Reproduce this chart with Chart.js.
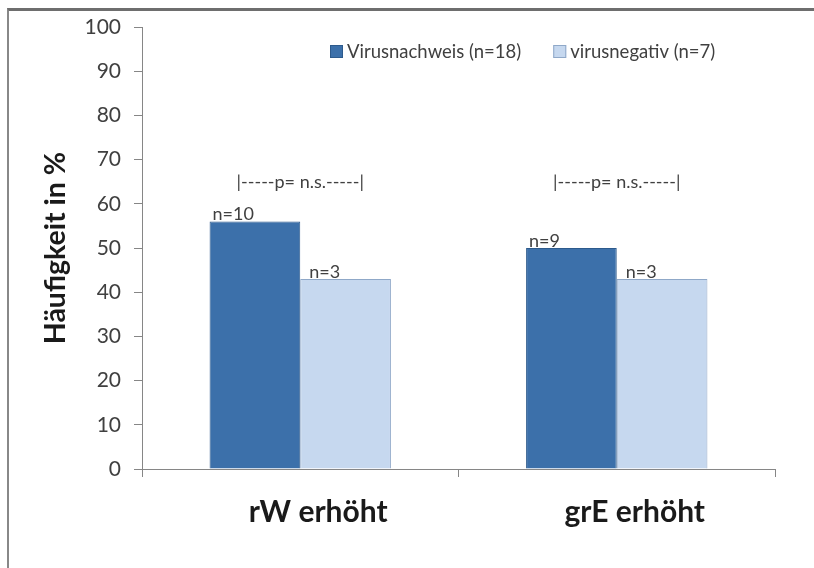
<!DOCTYPE html>
<html>
<head>
<meta charset="utf-8">
<script src="https://cdn.jsdelivr.net/npm/chart.js@4.4.1/dist/chart.umd.min.js"></script>
<style>
  html, body { margin: 0; padding: 0; background: #fff; }
  #wrap { position: relative; width: 814px; height: 568px; overflow: hidden; }
  #frame { position: absolute; left: 7px; top: 8px; width: 820px; height: 580px;
           border-top: 3px solid #6e6e6e; border-left: 2px solid #888; box-sizing: border-box; }
  canvas { position: absolute; left: 0; top: 0; }
</style>
</head>
<body>
<div id="wrap">
  <div id="frame"></div>
  <canvas id="chart" width="814" height="568"></canvas>
</div>
<script>
const categories = ['rW erhöht', 'grE erhöht'];
const seriesNames = ['Virusnachweis (n=18)', 'virusnegativ (n=7)'];
const positiveValues = [56, 50];
const negativeValues = [43, 43];
const positiveCounts = ['n=10', 'n=9'];
const negativeCounts = ['n=3', 'n=3'];
const pLabels = ['|-----p= n.s.-----|', '|-----p= n.s.-----|'];
const pLabelLevel = 65;
const yTicks = [0, 10, 20, 30, 40, 50, 60, 70, 80, 90, 100];

const FONT = 'Lato, "Open Sans", sans-serif';
const darkBlue = '#3c70aa';
const lightBlue = '#c6d8ef';

const annotations = {
  id: 'annotations',
  afterDatasetsDraw(chart) {
    const ctx = chart.ctx;
    const counts = [positiveCounts, negativeCounts];
    const offsets = [3, 9];
    ctx.save();
    ctx.fillStyle = '#404040';
    ctx.font = '18px ' + FONT;
    ctx.textBaseline = 'alphabetic';
    ctx.textAlign = 'left';
    chart.data.datasets.forEach((ds, di) => {
      chart.getDatasetMeta(di).data.forEach((bar, i) => {
        const left = bar.x - bar.width / 2;
        ctx.fillText(counts[di][i], left + offsets[di], bar.y - 1);
      });
    });
    // significance labels above each group
    const y = chart.scales.y.getPixelForValue(pLabelLevel);
    const m0 = chart.getDatasetMeta(0).data;
    const m1 = chart.getDatasetMeta(1).data;
    ctx.textAlign = 'center';
    ctx.textBaseline = 'middle';
    pLabels.forEach((txt, i) => {
      const cx = (m0[i].x + m1[i].x) / 2;
      ctx.fillText(txt, cx, y);
    });
    // legend inside the plot
    ctx.font = '18.5px ' + FONT;
    ctx.textAlign = 'left';
    let x = 330;
    const ly = 51;
    chart.data.datasets.forEach((ds, di) => {
      ctx.fillStyle = ds.backgroundColor;
      ctx.strokeStyle = ds.borderColor;
      ctx.lineWidth = 1;
      ctx.fillRect(x, ly - 6, 13, 13);
      ctx.strokeRect(x + 0.5, ly - 5.5, 12, 12);
      ctx.fillStyle = '#404040';
      ctx.fillText(ds.label, x + 17, ly + 1);
      x += 17 + ctx.measureText(ds.label).width + 32;
    });
    ctx.restore();
  }
};

new Chart(document.getElementById('chart').getContext('2d'), {
  type: 'bar',
  data: {
    labels: categories,
    datasets: [{
      label: seriesNames[0],
      data: positiveValues,
      backgroundColor: darkBlue,
      borderColor: '#2d5a8c',
      borderWidth: 1,
      categoryPercentage: 0.573,
      barPercentage: 1.0
    }, {
      label: seriesNames[1],
      data: negativeValues,
      backgroundColor: lightBlue,
      borderColor: '#8fa8c8',
      borderWidth: 1,
      categoryPercentage: 0.573,
      barPercentage: 1.0
    }]
  },
  options: {
    responsive: false,
    animation: false,
    layout: { padding: { left: 39, right: 39, top: 27, bottom: 0 } },
    plugins: {
      legend: { display: false },
      tooltip: { enabled: false }
    },
    scales: {
      x: {
        afterFit: s => { s.height = 99; },
        border: { color: '#868686' },
        grid: { drawOnChartArea: false, drawTicks: true, tickLength: 8, color: '#868686', offset: true },
        ticks: { color: '#1a1a1a', padding: 17, labelOffset: 18, font: { family: FONT, size: 30, weight: 'bold' } }
      },
      y: {
        min: 0,
        max: 100,
        afterFit: s => { s.width = 142 - 39; },
        afterBuildTicks: s => { s.ticks = yTicks.map(v => ({ value: v })); },
        border: { color: '#868686' },
        grid: { drawOnChartArea: false, drawTicks: true, tickLength: 8, color: '#868686' },
        ticks: { color: '#404040', padding: 13, font: { family: FONT, size: 21 } },
        title: {
          display: true,
          text: 'Häufigkeit in %',
          color: '#1a1a1a',
          padding: { top: 0, bottom: 4 },
          font: { family: FONT, size: 28.5, weight: 'bold' }
        }
      }
    }
  },
  plugins: [annotations]
});
</script>
</body>
</html>
